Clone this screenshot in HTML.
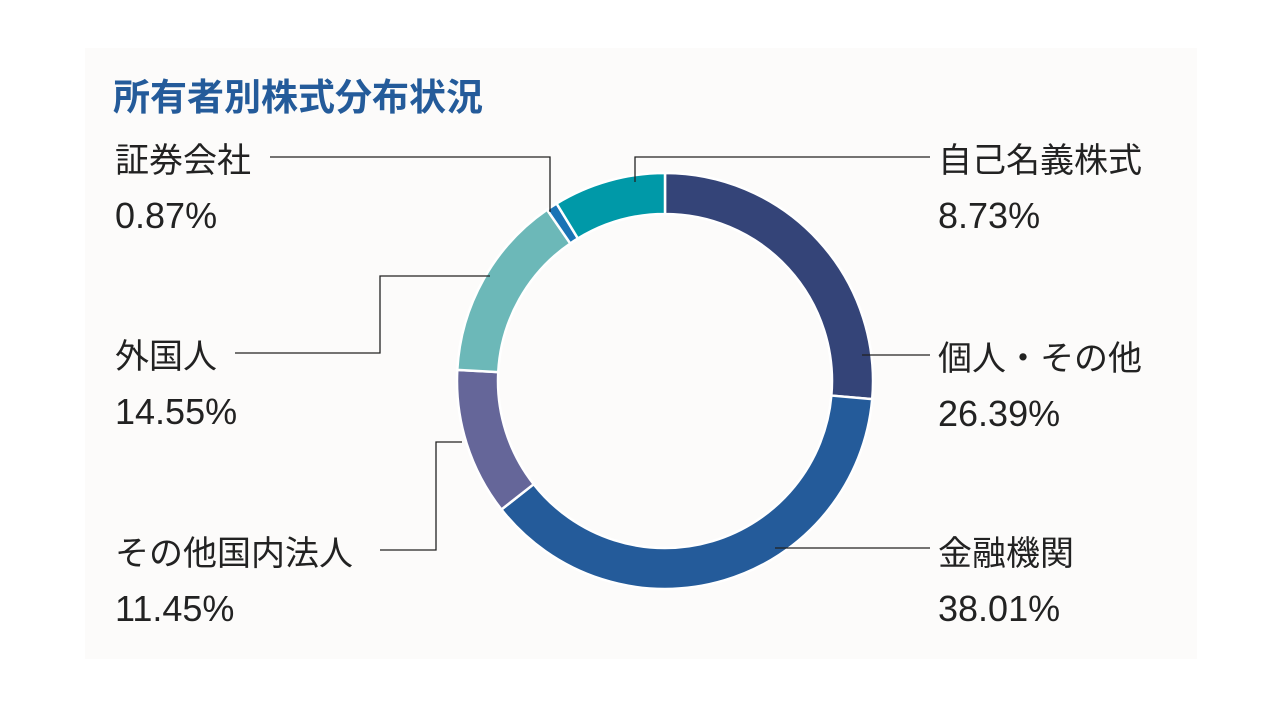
<!DOCTYPE html>
<html><head><meta charset="utf-8">
<style>
html,body{margin:0;padding:0;background:#fff;}
body{width:1284px;height:708px;position:relative;overflow:hidden;font-family:"Liberation Sans","Noto Sans CJK JP",sans-serif;}
#panel{position:absolute;left:85px;top:48px;width:1112px;height:611px;background:#fcfbfa;}
svg{position:absolute;left:0;top:0;}
</style></head>
<body>
<div id="panel"></div>
<svg id="chart" width="1284" height="708">
<text x="113" y="110" font-size="37" font-weight="bold" fill="#245b9a" font-family="Liberation Sans, Noto Sans CJK JP, sans-serif">所有者別株式分布状況</text>
</svg>
<script>
const categories = ["個人・その他","金融機関","その他国内法人","外国人","証券会社","自己名義株式"];
const values = [26.39, 38.01, 11.45, 14.55, 0.87, 8.73];
const labels = ["26.39%","38.01%","11.45%","14.55%","0.87%","8.73%"];
const colors = ["#344478","#245b9a","#656699","#6cb8b8","#1a73b5","#0099a8"];
const NS="http://www.w3.org/2000/svg";
const svg=document.getElementById('chart');
const cx=665, cy=381, R=208, r=167;
const total=values.reduce((a,b)=>a+b,0);
function pt(a,rad){return [cx+rad*Math.sin(a), cy-rad*Math.cos(a)];}
let acc=0;
values.forEach((v,i)=>{
  const a0=acc/total*2*Math.PI, a1=(acc+v)/total*2*Math.PI; acc+=v;
  const large=(a1-a0)>Math.PI?1:0;
  const [x0,y0]=pt(a0,R),[x1,y1]=pt(a1,R),[x2,y2]=pt(a1,r),[x3,y3]=pt(a0,r);
  const p=document.createElementNS(NS,'path');
  p.setAttribute('d',`M${x0},${y0}A${R},${R} 0 ${large} 1 ${x1},${y1}L${x2},${y2}A${r},${r} 0 ${large} 0 ${x3},${y3}Z`);
  p.setAttribute('fill',colors[i]);
  p.setAttribute('stroke','#fff');
  p.setAttribute('stroke-width','2.5');
  
  
  svg.appendChild(p);
});
// leader lines
const leaders=[
 "862,355 930,355",
 "775,548 930,548",
 "380,550 436,550 436,442 462,442",
 "235,353 380,353 380,276 490,276",
 "270,157 550,157 550,212",
 "635,182 635,157 930,157"
];
leaders.forEach((pts,i)=>{
  const l=document.createElementNS(NS,'polyline');
  l.setAttribute('points',pts);
  l.setAttribute('fill','none');
  l.setAttribute('stroke','#222');
  l.setAttribute('stroke-width','1.3');
  
  
  svg.appendChild(l);
});
const pos=[[938,370],[938,565],[115,565],[115,368],[115,172],[938,172]];
categories.forEach((c,i)=>{
  const t=document.createElementNS(NS,'text');
  t.setAttribute('x',pos[i][0]);t.setAttribute('y',pos[i][1]);
  t.setAttribute('font-size','34');t.setAttribute('fill','#222');
  t.textContent=c;
  
  
  svg.appendChild(t);
  const t2=document.createElementNS(NS,'text');
  t2.setAttribute('x',pos[i][0]);t2.setAttribute('y',pos[i][1]+56);
  t2.setAttribute('font-size','36');t2.setAttribute('fill','#222');
  t2.textContent=labels[i];
  
  
  svg.appendChild(t2);
});
</script>
</body></html>
